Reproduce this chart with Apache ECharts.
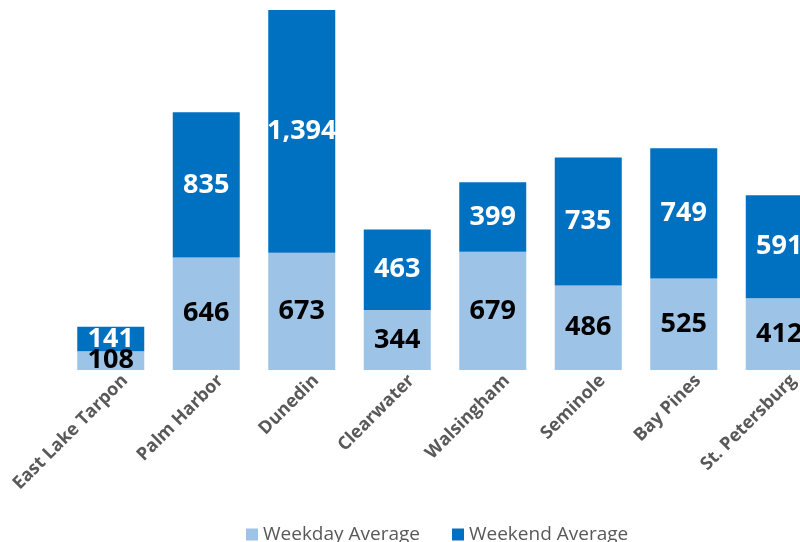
<!DOCTYPE html>
<html><head><meta charset="utf-8">
<script src="https://cdn.jsdelivr.net/npm/echarts@6/dist/echarts.min.js"></script>
<style>html,body{margin:0;padding:0;background:#fff;overflow:hidden;width:800px;height:542px}#c{width:830px;height:542px}</style>
</head><body><div id="c"></div>
<script>
const categories = ['East Lake Tarpon','Palm Harbor','Dunedin','Clearwater','Walsingham','Seminole','Bay Pines','St. Petersburg'];
const weekday = [108, 646, 673, 344, 679, 486, 525, 412];
const weekend = [141, 835, 1394, 463, 399, 735, 749, 591];
const seriesNames = ['Weekday Average', 'Weekend Average'];

const fmt = p => p.value.toLocaleString('en-US');
const chart = echarts.init(document.getElementById('c'));
chart.setOption({
  animation: false,
  grid: { left: 63, width: 764, top: 0, height: 370, containLabel: false },
  legend: {
    data: seriesNames, left: 241, top: 520, itemWidth: 12, itemHeight: 12, itemGap: 32,
    icon: 'rect',
    textStyle: { fontFamily: 'Open Sans', fontSize: 19, color: '#595959' }
  },
  xAxis: {
    type: 'category', data: categories,
    axisLine: { show: false },
    axisTick: { show: false },
    axisLabel: { rotate: 45, interval: 0, margin: 22, padding: [0, -20, 0, 0], fontFamily: 'Open Sans', fontSize: 18, fontWeight: 'bold', color: '#595959' }
  },
  yAxis: { type: 'value', min: 0, max: 2125, show: false, splitLine: { show: false } },
  series: [
    { name: seriesNames[0], type: 'bar', stack: 'a', data: weekday, barWidth: 67,
      itemStyle: { color: '#9DC3E6' },
      label: { show: true, position: 'inside', formatter: fmt, fontFamily: 'Open Sans', fontSize: 27, fontWeight: 'bold', color: '#000' } },
    { name: seriesNames[1], type: 'bar', stack: 'a', data: weekend, barWidth: 67,
      itemStyle: { color: '#0070C0' },
      label: { show: true, position: 'inside', formatter: fmt, fontFamily: 'Open Sans', fontSize: 27, fontWeight: 'bold', color: '#fff' } }
  ]
});
</script></body></html>
